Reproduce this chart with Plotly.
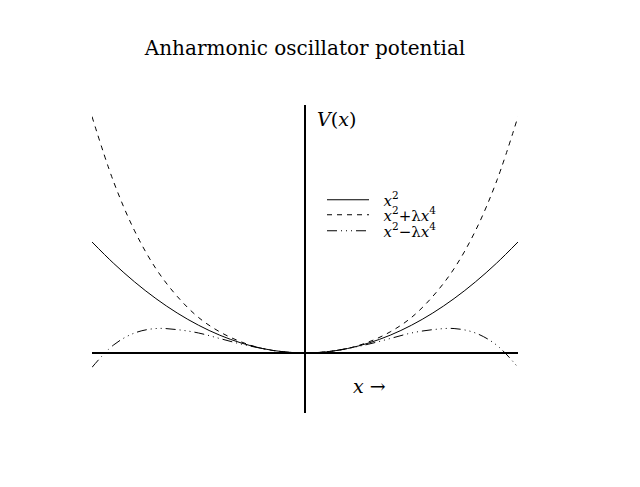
import plotly.graph_objects as go

# sample positions along x (edge of the plot = 1)
x_vals = [-1.0, -0.9, -0.8, -0.7, -0.6, -0.5, -0.4, -0.3, -0.2, -0.1, 0.0,
          0.1, 0.2, 0.3, 0.4, 0.5, 0.6, 0.7, 0.8, 0.9, 1.0]

# values
v_harmonic = [1.0, 0.81, 0.64, 0.49, 0.36, 0.25, 0.16, 0.09, 0.04, 0.01, 0.0,
              0.01, 0.04, 0.09, 0.16, 0.25, 0.36, 0.49, 0.64, 0.81, 1.0]
v_plus = [2.13, 1.55, 1.10, 0.76, 0.51, 0.32, 0.19, 0.10, 0.04, 0.01, 0.0,
          0.01, 0.04, 0.10, 0.19, 0.32, 0.51, 0.76, 1.10, 1.55, 2.13]
v_minus = [-0.13, 0.07, 0.18, 0.22, 0.21, 0.18, 0.13, 0.08, 0.04, 0.01, 0.0,
           0.01, 0.04, 0.08, 0.13, 0.18, 0.21, 0.22, 0.18, 0.07, -0.13]

series = [
    ('<i>x</i><sup>2</sup>', v_harmonic, 'solid', 'legend', 200),
    ('<i>x</i><sup>2</sup>+λ<i>x</i><sup>4</sup>', v_plus, '5px,5px', 'legend2', 215),
    ('<i>x</i><sup>2</sup>−λ<i>x</i><sup>4</sup>', v_minus,
     '10px,4px,1px,4px,1px,4px,1px,4px', 'legend3', 231),
]

serif = 'DejaVu Serif'
off = 8  # page body margin

fig = go.Figure()

legends = {}
for name, vals, dash, leg, row_y in series:
    fig.add_trace(
        go.Scatter(
            x=x_vals, y=vals,
            mode='lines',
            line=dict(color='black', width=1, dash=dash, shape='spline'),
            name='  ' + name,
            legend=leg,
        )
    )
    legends[leg] = dict(
        xref='container', yref='container',
        x=(328 - off - 6) / 640, y=1 - (row_y - off) / 487,
        xanchor='left', yanchor='middle',
        bgcolor='rgba(0,0,0,0)',
        itemwidth=42,
        font=dict(family=serif, size=15, color='black'),
    )

fig.update_xaxes(
    range=[-1, 1],
    showgrid=False, showticklabels=False, ticks='',
    zeroline=True, zerolinecolor='black', zerolinewidth=2,
)
fig.update_yaxes(
    range=[-0.541, 2.234],
    showgrid=False, showticklabels=False, ticks='',
    zeroline=True, zerolinecolor='black', zerolinewidth=2,
)

fig.add_annotation(
    x=0, y=2.234, xref='x', yref='y',
    text='<i>V</i>(<i>x</i>)',
    showarrow=False, xanchor='left', yanchor='top',
    xshift=10, yshift=-1,
    font=dict(family=serif, size=19, color='black'),
)
fig.add_annotation(
    x=0.305, y=-0.3, xref='x', yref='y',
    text='<i>x</i> →',
    showarrow=False,
    font=dict(family=serif, size=19, color='black'),
)

fig.update_layout(
    width=640, height=487,
    title=dict(
        text='Anharmonic oscillator potential',
        x=(305 - off) / 640, xanchor='center',
        y=1 - (48 - off) / 487, yanchor='middle',
        font=dict(family=serif, size=20, color='black'),
    ),
    showlegend=True,
    margin=dict(l=92 - off, r=640 - 518 + off, t=105 - off, b=487 - 413 + off,
                autoexpand=False),
    plot_bgcolor='white',
    paper_bgcolor='white',
    **legends,
)

fig.write_html('out.html')
